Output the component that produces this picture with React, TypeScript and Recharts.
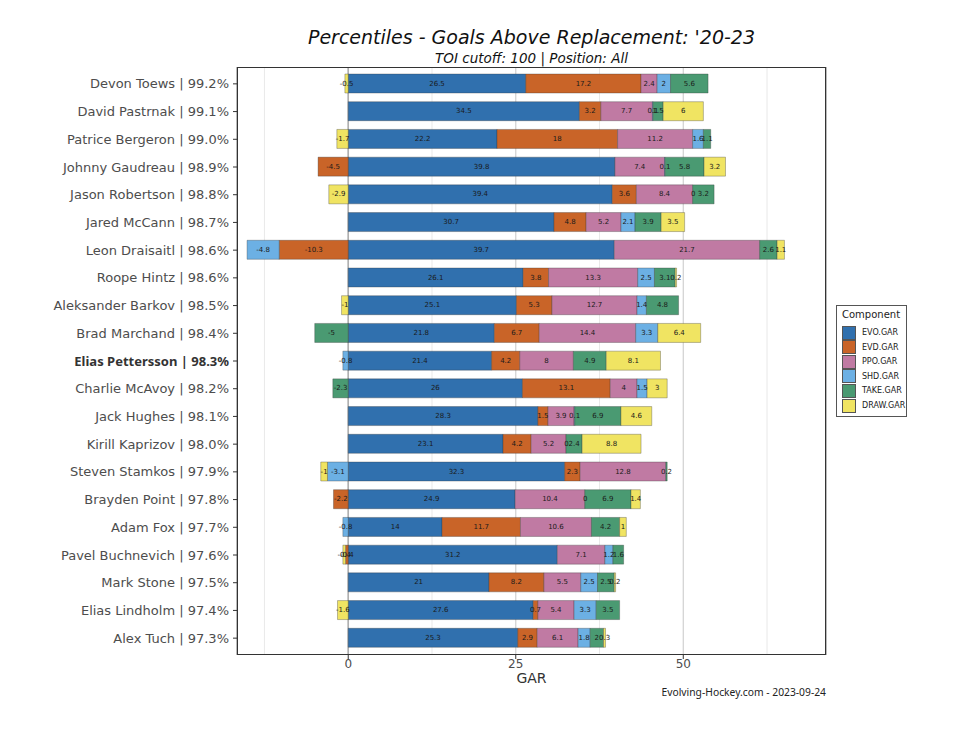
import React from 'react'
import {
  BarChart,
  Bar,
  XAxis,
  YAxis,
  CartesianGrid,
  LabelList,
} from 'recharts'

const players = [
  'Devon Toews', 'David Pastrnak', 'Patrice Bergeron', 'Johnny Gaudreau', 'Jason Robertson',
  'Jared McCann', 'Leon Draisaitl', 'Roope Hintz', 'Aleksander Barkov', 'Brad Marchand',
  'Elias Pettersson', 'Charlie McAvoy', 'Jack Hughes', 'Kirill Kaprizov', 'Steven Stamkos',
  'Brayden Point', 'Adam Fox', 'Pavel Buchnevich', 'Mark Stone', 'Elias Lindholm', 'Alex Tuch',
]
const percentiles = [
  '99.2%', '99.1%', '99.0%', '98.9%', '98.8%', '98.7%', '98.6%', '98.6%', '98.5%', '98.4%',
  '98.3%', '98.2%', '98.1%', '98.0%', '97.9%', '97.8%', '97.7%', '97.6%', '97.5%', '97.4%', '97.3%',
]
const highlight = 'Elias Pettersson'

const evo = [26.5, 34.5, 22.2, 39.8, 39.4, 30.7, 39.7, 26.1, 25.1, 21.8, 21.4, 26, 28.3, 23.1, 32.3, 24.9, 14, 31.2, 21, 27.6, 25.3]
const evd = [17.2, 3.2, 18, -4.5, 3.6, 4.8, -10.3, 3.8, 5.3, 6.7, 4.2, 13.1, 1.5, 4.2, 2.3, -2.2, 11.7, -0.4, 8.2, 0.7, 2.9]
const ppo = [2.4, 7.7, 11.2, 7.4, 8.4, 5.2, 21.7, 13.3, 12.7, 14.4, 8, 4, 3.9, 5.2, 12.8, 10.4, 10.6, 7.1, 5.5, 5.4, 6.1]
const shd = [2, 0.1, 1.6, 0.1, 0, 2.1, -4.8, 2.5, 1.4, 3.3, -0.8, 1.5, 0.1, 0, -3.1, 0, -0.8, 1.2, 2.5, 3.3, 1.8]
const take = [5.6, 1.5, 1.1, 5.8, 3.2, 3.9, 2.6, 3.1, 4.8, -5, 4.9, -2.3, 6.9, 2.4, 0.2, 6.9, 4.2, 1.6, 2.5, 3.5, 2]
const draw = [-0.5, 6, -1.7, 3.2, -2.9, 3.5, 1.1, 0.2, -1, 6.4, 8.1, 3, 4.6, 8.8, -1, 1.4, 1, -0.4, 0.2, -1.6, 0.3]

const components = [
  { key: 'EVO', label: 'EVO.GAR', color: '#3070ae' },
  { key: 'EVD', label: 'EVD.GAR', color: '#c96428' },
  { key: 'PPO', label: 'PPO.GAR', color: '#c07aa3' },
  { key: 'SHD', label: 'SHD.GAR', color: '#6cb0e4' },
  { key: 'TAKE', label: 'TAKE.GAR', color: '#4a9a72' },
  { key: 'DRAW', label: 'DRAW.GAR', color: '#f0e462' },
]

const xDomain = [-16.6, 71.3]
const minorTicks = [-12.5, 12.5, 37.5, 62.5]
const majorTicks = [0, 25, 50]

const data = players.map((name, i) => ({
  label: `${name} | ${percentiles[i]}`,
  EVO: evo[i],
  EVD: evd[i],
  PPO: ppo[i],
  SHD: shd[i],
  TAKE: take[i],
  DRAW: draw[i],
}))

const FONT = '"DejaVu Sans", sans-serif'
const NOTO = '"Noto Sans", sans-serif'
const PLOT_BOTTOM = 655
const chartProps = {
  width: 960,
  height: 733,
  data,
  layout: 'vertical' as const,
  stackOffset: 'sign' as const,
  barSize: 19,
  margin: { top: 67, right: 134, bottom: 48, left: 0 },
}

function YTick(props: any) {
  const { y, payload } = props
  const bold = payload.value.startsWith(highlight)
  return (
    <g>
      <line x1={233} x2={237} y1={y} y2={y} stroke="#333" />
      <text
        x={229}
        y={y}
        textAnchor="end"
        dominantBaseline="central"
        fontSize={13}
        fontFamily={bold ? NOTO : FONT}
        fontWeight={bold ? 'bold' : 'normal'}
        fill={bold ? '#333' : '#4d4d4d'}
      >
        {payload.value}
      </text>
    </g>
  )
}

function XTick(props: any) {
  const { x, payload } = props
  return (
    <g>
      <line x1={x} x2={x} y1={PLOT_BOTTOM} y2={PLOT_BOTTOM + 4} stroke="#333" />
      <text x={x} y={PLOT_BOTTOM + 13} textAnchor="middle" fontSize={12} fontFamily={FONT} fill="#4d4d4d">
        {payload.value}
      </text>
    </g>
  )
}

function SegmentLabel(props: any) {
  const { x, y, width, height, value } = props
  return (
    <text
      x={x + width / 2}
      y={y + height / 2}
      textAnchor="middle"
      dominantBaseline="central"
      fontSize={7}
      fontFamily={FONT}
      fill="#1a1a1a"
    >
      {String(value)}
    </text>
  )
}

export default function App() {
  return (
    <div style={{ position: 'absolute', left: 0, top: 0, width: 960, height: 733, background: '#fff', fontFamily: FONT }}>
      <div style={{ position: 'absolute', left: 237, width: 589, top: 25, lineHeight: '24px', fontSize: 19, fontStyle: 'italic', textAlign: 'center', color: '#111' }}>
        Percentiles - Goals Above Replacement: '20-23
      </div>
      <div style={{ position: 'absolute', left: 237, width: 589, top: 49, lineHeight: '18px', fontSize: 13.5, fontStyle: 'italic', textAlign: 'center', color: '#111' }}>
        TOI cutoff: 100 | Position: All
      </div>

      {/* bars, grid and axes */}
      <div style={{ position: 'absolute', left: 0, top: 0 }}>
        <BarChart {...chartProps}>
          <CartesianGrid horizontal={false} stroke="#e3e3e3" strokeWidth={0.8} xAxisId="minor" />
          <CartesianGrid horizontal={false} stroke="#d0d0d0" strokeWidth={1.2} />
          <CartesianGrid horizontal={false} stroke="#b0b0b0" strokeWidth={1.6} xAxisId="zero" />
          <XAxis
            type="number"
            domain={xDomain}
            ticks={majorTicks}
            allowDataOverflow
            height={30}
            axisLine={false}
            tickLine={false}
            tick={<XTick />}
          />
          <XAxis xAxisId="minor" type="number" domain={xDomain} ticks={minorTicks} allowDataOverflow hide />
          <XAxis xAxisId="zero" type="number" domain={xDomain} ticks={[0]} allowDataOverflow hide />
          <YAxis
            type="category"
            dataKey="label"
            width={237}
            padding={{ top: 3, bottom: 3 }}
            axisLine={false}
            tickLine={false}
            interval={0}
            tick={<YTick />}
          />
          {components.map((c) => (
            <Bar
              key={c.key}
              dataKey={c.key}
              stackId="gar"
              fill={c.color}
              stroke="#333"
              strokeOpacity={0.55}
              strokeWidth={0.6}
              isAnimationActive={false}
            />
          ))}
        </BarChart>
      </div>

      {/* value labels on top of every segment */}
      <div style={{ position: 'absolute', left: 0, top: 0, pointerEvents: 'none' }}>
        <BarChart {...chartProps}>
          <XAxis type="number" domain={xDomain} allowDataOverflow height={30} axisLine={false} tickLine={false} tick={false} />
          <YAxis type="category" dataKey="label" width={237} padding={{ top: 3, bottom: 3 }} axisLine={false} tickLine={false} tick={false} />
          {components.map((c) => (
            <Bar
              key={c.key}
              dataKey={c.key}
              stackId="gar"
              fill="none"
              stroke="none"
              minPointSize={1}
              isAnimationActive={false}
            >
              <LabelList dataKey={c.key} content={<SegmentLabel />} />
            </Bar>
          ))}
        </BarChart>
      </div>

      <div style={{ position: 'absolute', left: 237, top: 67, width: 589, height: 588, border: '1px solid #333', boxSizing: 'border-box', pointerEvents: 'none' }} />

      <div style={{ position: 'absolute', left: 237, width: 589, top: 669, lineHeight: '18px', fontSize: 14, textAlign: 'center', color: '#333' }}>
        GAR
      </div>
      <div style={{ position: 'absolute', right: 134, top: 684, lineHeight: '16px', fontSize: 10.3, fontFamily: NOTO, color: '#222' }}>
        Evolving-Hockey.com - 2023-09-24
      </div>

      <div style={{ position: 'absolute', left: 836, top: 305, width: 71, height: 112, border: '1px solid #555', boxSizing: 'border-box', background: '#fff' }}>
        <div style={{ position: 'absolute', left: 5, top: 2, fontSize: 10, lineHeight: '14px', color: '#222' }}>Component</div>
        {components.map((c, i) => (
          <div key={c.key} style={{ position: 'absolute', left: 5, top: 19 + i * 14.6, height: 15, display: 'flex', alignItems: 'center' }}>
            <div style={{ width: 14, height: 14, background: c.color, border: '0.5px solid #555', boxSizing: 'border-box' }} />
            <span style={{ marginLeft: 6, fontSize: 8, color: '#222' }}>{c.label}</span>
          </div>
        ))}
      </div>
    </div>
  )
}
